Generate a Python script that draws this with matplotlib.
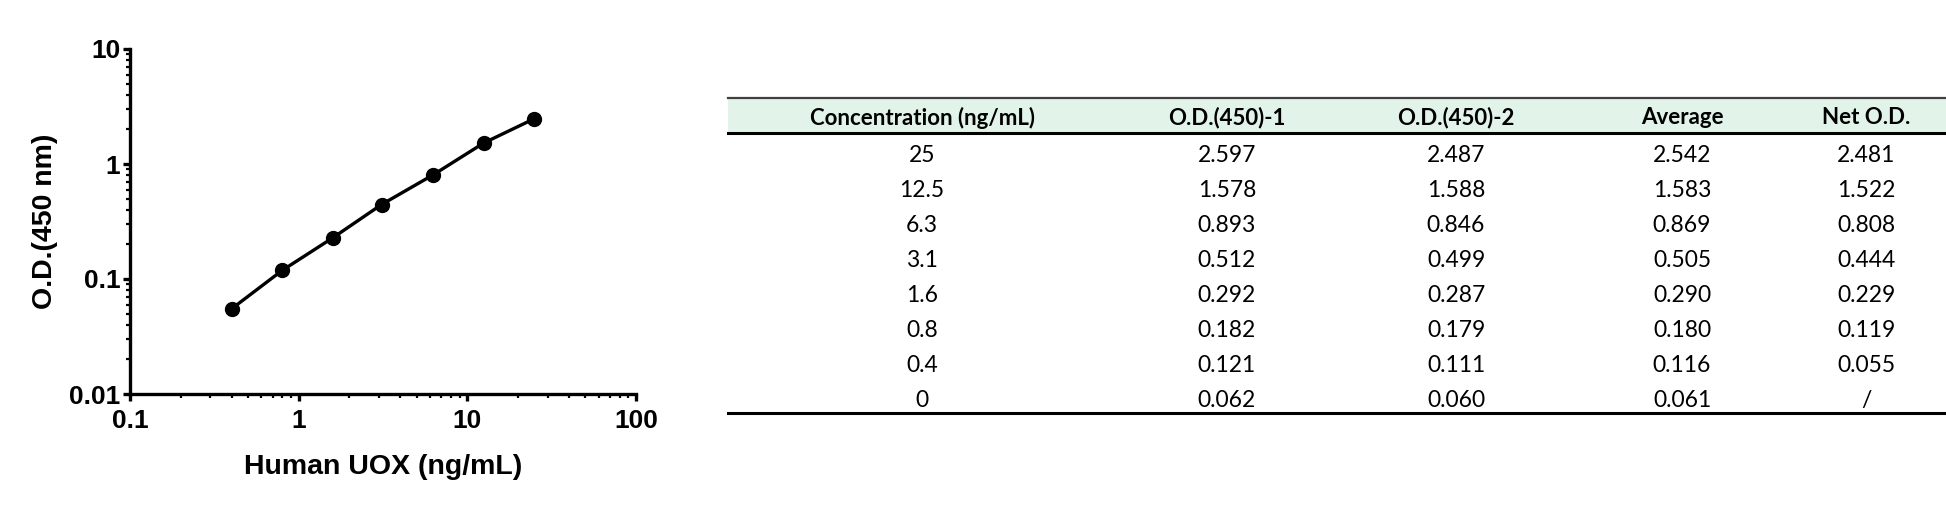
import matplotlib
matplotlib.use("Agg")
import matplotlib.pyplot as plt
from matplotlib.ticker import LogLocator, FixedLocator, NullFormatter

W, H = 1946, 505

# data
conc_labels = ["25", "12.5", "6.3", "3.1", "1.6", "0.8", "0.4", "0"]
od1 = ["2.597", "1.578", "0.893", "0.512", "0.292", "0.182", "0.121", "0.062"]
od2 = ["2.487", "1.588", "0.846", "0.499", "0.287", "0.179", "0.111", "0.060"]
avg = ["2.542", "1.583", "0.869", "0.505", "0.290", "0.180", "0.116", "0.061"]
net = ["2.481", "1.522", "0.808", "0.444", "0.229", "0.119", "0.055", "/"]
headers = ["Concentration (ng/mL)", "O.D.(450)-1", "O.D.(450)-2", "Average", "Net O.D."]

conc = [25, 12.5, 6.3, 3.1, 1.6, 0.8, 0.4]
net_od = [2.481, 1.522, 0.808, 0.444, 0.229, 0.119, 0.055]

fig = plt.figure(figsize=(W / 100, H / 100), dpi=100)

# ---- curve ----
L, R, T, B = 130, 636, 49, 394
ax = fig.add_axes([L / W, (H - B) / H, (R - L) / W, (B - T) / H])
ax.plot(conc, net_od, color="black", lw=2.4, marker="o", ms=10, zorder=3)
ax.set_xscale("log")
ax.set_yscale("log")
ax.set_xlim(0.1, 100)
ax.set_ylim(0.01, 10)
ax.xaxis.set_major_locator(FixedLocator([0.1, 1, 10, 100]))
ax.yaxis.set_major_locator(FixedLocator([0.01, 0.1, 1, 10]))
ax.set_xticklabels(["0.1", "1", "10", "100"])
ax.set_yticklabels(["0.01", "0.1", "1", "10"])
ax.xaxis.set_minor_locator(LogLocator(base=10, subs=range(2, 10)))
ax.yaxis.set_minor_locator(LogLocator(base=10, subs=range(2, 10)))
ax.xaxis.set_minor_formatter(NullFormatter())
ax.yaxis.set_minor_formatter(NullFormatter())
for s in ["top", "right"]:
    ax.spines[s].set_visible(False)
for s in ["left", "bottom"]:
    ax.spines[s].set_linewidth(2.4)
ax.tick_params(which="major", length=5, width=2.4, direction="out", pad=2)
ax.tick_params(axis="x", which="major", pad=6)
ax.tick_params(which="minor", length=3, width=1.6, direction="out")
for lab in ax.get_xticklabels() + ax.get_yticklabels():
    lab.set_fontfamily("Liberation Sans")
    lab.set_fontweight("bold")
    lab.set_fontsize(19)
ax.set_xlabel("Human UOX (ng/mL)", family="Liberation Sans", weight="bold",
              fontsize=20.5, labelpad=15)
ax.set_ylabel("O.D.(450 nm)", family="Liberation Sans", weight="bold",
              fontsize=20.5, labelpad=8)

# ---- table ----
tx = fig.add_axes([0, 0, 1, 1])
tx.set_xlim(0, W)
tx.set_ylim(H, 0)
tx.axis("off")
t_left, t_right = 728, W
top_y, head_y, bot_y = 98, 133, 413
col_x = [922, 1227, 1456, 1682, 1866]
row_h = (bot_y - head_y) / len(conc_labels)

tx.fill_between([t_left, t_right], top_y, head_y, color="#e2f3ea", lw=0)
tx.plot([t_left, t_right], [top_y, top_y], color="#404040", lw=1.6)
tx.plot([t_left, t_right], [head_y, head_y], color="black", lw=2.2)
tx.plot([t_left, t_right], [bot_y, bot_y], color="black", lw=2.2)

for x, h in zip(col_x, headers):
    tx.text(x, (top_y + head_y) / 2 + 2, h, ha="center", va="center",
            family="Lato", weight="bold", fontsize=16)

columns = [conc_labels, od1, od2, avg, net]
for x, col in zip(col_x, columns):
    for i, v in enumerate(col):
        tx.text(x, head_y + row_h * (i + 0.5) + 5, v, ha="center", va="center",
                family="Lato", fontsize=16.5)

fig.savefig("out.png", dpi=100)
